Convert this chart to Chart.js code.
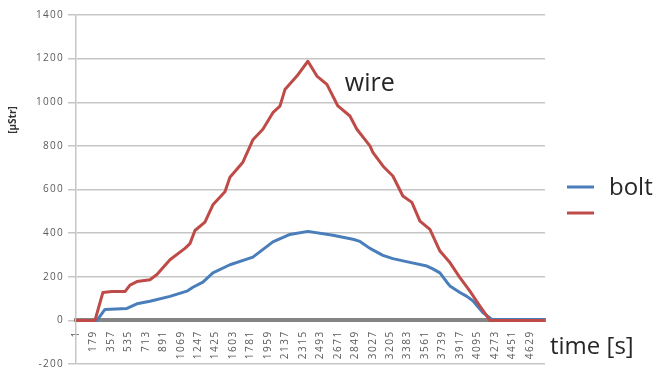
<!DOCTYPE html>
<html>
<head>
<meta charset="utf-8">
<script src="https://cdn.jsdelivr.net/npm/chart.js@4.4.1/dist/chart.umd.min.js"></script>
<style>
  html, body { margin: 0; padding: 0; background: #ffffff; }
  #wrap { width: 658px; height: 374px; }
</style>
</head>
<body>
<div id="wrap"><canvas id="c" width="658" height="374"></canvas></div>
<script>
// Strain gauge readings over the test run
const seriesNames = ['bolt', 'wire'];
const legendLabels = ['bolt', ''];
const seriesColors = ['#4a7ebb', '#be4b48'];

// category labels along the time axis [s]
const timeTicks = [1, 179, 357, 535, 713, 891, 1069, 1247, 1425, 1603, 1781, 1959, 2137,
  2315, 2493, 2671, 2849, 3027, 3205, 3383, 3561, 3739, 3917, 4095, 4273, 4451, 4629];
const strainTicks = [-200, 0, 200, 400, 600, 800, 1000, 1200, 1400];

// bolt gauge
const boltTime = [1, 214, 296, 520, 622, 755, 959, 1132, 1193, 1295, 1397, 1571, 1805, 2009,
  2183, 2366, 2621, 2825, 2897, 2999, 3131, 3233, 3407, 3580, 3641, 3713, 3784, 3815, 3917,
  3988, 4049, 4151, 4243, 4784];
const boltStrain = [0, 0, 50, 55, 76, 88, 110, 134, 152, 175, 218, 255, 290, 360,
  394, 408, 390, 372, 362, 330, 298, 283, 266, 249, 236, 218, 175, 158, 128,
  110, 90, 36, 4, 4];

// wire gauge
const wireTime = [1, 194, 275, 367, 500, 551, 622, 755, 826, 959, 1112, 1163, 1214, 1316,
  1397, 1520, 1571, 1703, 1805, 1907, 2009, 2081, 2132, 2254, 2366, 2458, 2560, 2672, 2795,
  2866, 2999, 3029, 3131, 3233, 3335, 3427, 3509, 3611, 3713, 3815, 3917, 4019, 4121, 4223, 4784];
const wireStrain = [0, 0, 128, 132, 132, 162, 178, 186, 210, 278, 330, 352, 412, 450,
  530, 590, 656, 725, 828, 876, 952, 982, 1058, 1120, 1188, 1120, 1082, 983, 937,
  876, 800, 770, 708, 662, 570, 541, 455, 417, 318, 265, 196, 134, 66, 0, 0];

const pairs = (xs, ys) => xs.map((x, i) => ({ x: x, y: ys[i] }));

// tick labels drawn with a little extra tracking
const trackedLabels = {
  id: 'trackedLabels',
  beforeDraw(chart) {
    [['x', '1.5px'], ['y', '1.3px']].forEach(([id, sp]) => {
      const s = chart.scales[id];
      if (s && !s._tracked) {
        const orig = s.drawLabels;
        s.drawLabels = function (area) {
          const ctx = this.ctx;
          ctx.save();
          ctx.letterSpacing = sp;
          orig.call(this, area);
          ctx.restore();
        };
        s._tracked = true;
      }
    });
  }
};

// series name, legend, axis captions
const captions = {
  id: 'captions',
  afterDraw(chart) {
    const ctx = chart.ctx;
    const xs = chart.scales.x, ys = chart.scales.y;
    ctx.save();
    ctx.fillStyle = '#262626';
    ctx.textAlign = 'left';
    ctx.textBaseline = 'alphabetic';

    // series name beside the wire peak
    ctx.font = '25px "Open Sans"';
    ctx.fillText(seriesNames[1], xs.getPixelForValue(2743), ys.getPixelForValue(1050));

    // axis caption for time
    ctx.font = '24px "Open Sans"';
    ctx.fillText('time [s]', 550, 354);

    // y-axis caption
    ctx.save();
    ctx.translate(13.5, 120);
    ctx.rotate(-Math.PI / 2);
    ctx.font = 'bold 10px "Open Sans"';
    ctx.fillStyle = '#333333';
    ctx.textAlign = 'center';
    ctx.textBaseline = 'middle';
    ctx.fillText('[\u03bcStr]', 0, 0);
    ctx.restore();

    // legend
    const rows = [187, 213];
    chart.data.datasets.forEach((ds, i) => {
      const y = rows[i];
      ctx.strokeStyle = ds.borderColor;
      ctx.lineWidth = 3;
      ctx.beginPath();
      ctx.moveTo(567, y);
      ctx.lineTo(594, y);
      ctx.stroke();
      if (legendLabels[i]) {
        ctx.font = '24px "Open Sans"';
        ctx.fillStyle = '#262626';
        ctx.textBaseline = 'alphabetic';
        ctx.fillText(legendLabels[i], 609, y + 8);
      }
    });
    ctx.restore();
  }
};

new Chart(document.getElementById('c'), {
  type: 'line',
  data: {
    datasets: [
      {
        label: seriesNames[0],
        data: pairs(boltTime, boltStrain),
        borderColor: seriesColors[0],
        borderWidth: 3,
        pointRadius: 0,
        tension: 0,
        borderJoinStyle: 'round',
        borderCapStyle: 'round',
        order: 1
      },
      {
        label: seriesNames[1],
        data: pairs(wireTime, wireStrain),
        borderColor: seriesColors[1],
        borderWidth: 3,
        pointRadius: 0,
        tension: 0,
        borderJoinStyle: 'round',
        borderCapStyle: 'round',
        order: 0
      }
    ]
  },
  options: {
    responsive: false,
    animation: false,
    events: [],
    layout: { padding: { left: 0, top: 15, right: 113, bottom: 8.5 } },
    plugins: { legend: { display: false }, tooltip: { enabled: false } },
    scales: {
      x: {
        type: 'linear',
        position: { y: 0 },
        min: 0.5,
        max: 4785,
        afterBuildTicks: (s) => { s.ticks = timeTicks.map(v => ({ value: v })); },
        afterFit: (s) => { s.height = 0; s.paddingLeft = 0; s.paddingRight = 0; },
        grid: { display: false, drawTicks: false },
        border: { display: true, color: '#858585', width: 4 },
        ticks: {
          autoSkip: false,
          minRotation: 90,
          maxRotation: 90,
          padding: 10,
          color: '#5a5a5a',
          font: { family: '"Open Sans"', size: 10 },
          callback: (v) => String(v)
        }
      },
      y: {
        type: 'linear',
        position: 'left',
        min: -200,
        max: 1400,
        afterBuildTicks: (s) => { s.ticks = strainTicks.map(v => ({ value: v })); },
        afterFit: (s) => { s.width = 76; },
        grid: { color: '#c6c6c6', lineWidth: 1.5, drawTicks: true, tickLength: 8 },
        border: { display: true, color: '#c6c6c6', width: 1.5 },
        ticks: {
          padding: 4,
          color: '#5a5a5a',
          font: { family: '"Open Sans"', size: 10 },
          callback: (v) => String(v)
        }
      }
    }
  },
  plugins: [trackedLabels, captions]
});
</script>
</body>
</html>
